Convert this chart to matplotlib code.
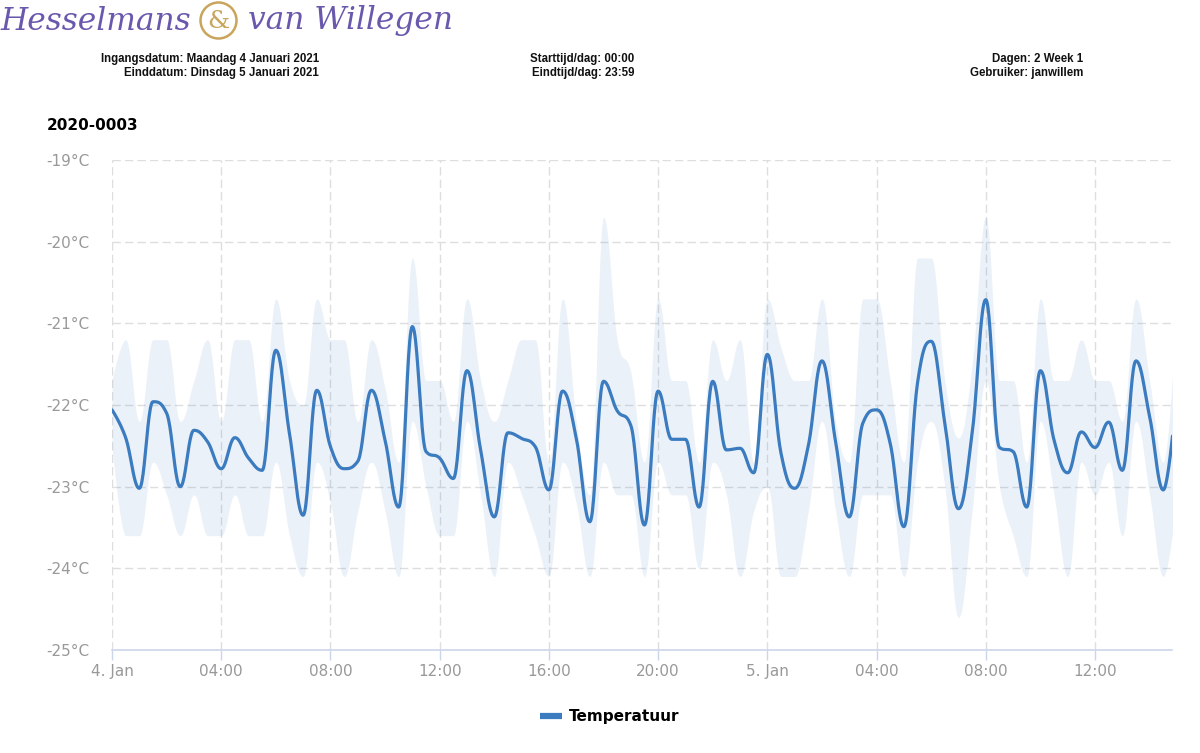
import numpy as np
import pandas as pd
import matplotlib
matplotlib.use("Agg")
import matplotlib.pyplot as plt
import matplotlib.dates as mdates
from matplotlib.patches import Circle
from matplotlib.lines import Line2D

# half-hourly readings starting Maandag 4 Januari 2021 00:00
temp_mean = [
    -22.06, -22.40, -23.02, -21.96, -22.10, -23.00, -22.31, -22.45, -22.78, -22.40,
    -22.65, -22.80, -21.33, -22.35, -23.35, -21.82, -22.51, -22.78, -22.69, -21.82,
    -22.43, -23.25, -21.04, -22.57, -22.65, -22.90, -21.58, -22.55, -23.37, -22.34,
    -22.41, -22.51, -23.04, -21.83, -22.40, -23.43, -21.71, -22.07, -22.25, -23.47,
    -21.83, -22.42, -22.42, -23.25, -21.71, -22.55, -22.53, -22.83, -21.38, -22.59,
    -23.02, -22.50, -21.46, -22.45, -23.37, -22.22, -22.06, -22.47, -23.49, -21.73,
    -21.22, -22.22, -23.27, -22.35, -20.71, -22.52, -22.57, -23.25, -21.58, -22.43,
    -22.83, -22.33, -22.52, -22.21, -22.80, -21.46, -22.14, -23.04, -21.80,
]
temp_high = [
    -21.7, -21.2, -22.2, -21.2, -21.2, -22.2, -21.7, -21.2, -22.2, -21.2,
    -21.2, -22.2, -20.7, -21.7, -22.0, -20.7, -21.2, -21.2, -22.2, -21.2,
    -21.8, -22.7, -20.2, -21.7, -21.7, -22.2, -20.7, -21.7, -22.2, -21.7,
    -21.2, -21.2, -22.7, -20.7, -22.2, -23.1, -19.7, -21.2, -21.6, -22.7,
    -20.7, -21.7, -21.7, -22.7, -21.2, -21.7, -21.2, -22.7, -20.7, -21.3,
    -21.7, -21.7, -20.7, -22.2, -22.7, -20.7, -20.7, -21.7, -22.7, -20.2,
    -20.2, -21.7, -22.4, -21.5, -19.7, -21.7, -21.7, -22.7, -20.7, -21.7,
    -21.7, -21.2, -21.7, -21.7, -22.2, -20.7, -21.7, -22.7, -20.7,
]
temp_low = [
    -22.5, -23.6, -23.6, -22.7, -23.1, -23.6, -23.1, -23.6, -23.6, -23.1,
    -23.6, -23.6, -22.7, -23.6, -24.1, -22.7, -23.2, -24.1, -23.3, -22.7,
    -23.3, -24.1, -22.2, -23.0, -23.6, -23.6, -22.2, -23.1, -24.1, -22.7,
    -23.1, -23.6, -24.1, -22.7, -23.2, -24.1, -22.7, -23.1, -23.1, -24.1,
    -22.7, -23.1, -23.1, -24.0, -22.7, -23.1, -24.1, -23.3, -23.0, -24.1,
    -24.1, -23.3, -22.2, -23.3, -24.1, -23.1, -23.1, -23.1, -24.1, -22.7,
    -22.2, -23.0, -24.6, -23.3, -21.7, -23.0, -23.6, -24.1, -22.2, -23.1,
    -24.1, -22.7, -23.1, -22.7, -23.6, -22.2, -23.1, -24.1, -23.1,
]
y_ticks = [-25, -24, -23, -22, -21, -20, -19]

header_left = ["Ingangsdatum: Maandag 4 Januari 2021", "Einddatum: Dinsdag 5 Januari 2021"]
header_mid = ["Starttijd/dag: 00:00", "Eindtijd/dag: 23:59"]
header_right = ["Dagen: 2 Week 1", "Gebruiker: janwillem"]
chart_title = "2020-0003"
series_name = "Temperatuur"

BLUE = "#3b7bbf"
GRID = "#dedede"
AXIS = "#ccd6eb"
LABEL = "#999999"
PURPLE = "#6a58ad"
GOLD = "#c9a55c"


def spline(x, y, smoothing=1.5, n=24):
    # highcharts style spline: bezier segments with flattened extremes
    x = np.asarray(x, float)
    y = np.asarray(y, float)
    m = len(x)
    lcx, lcy, rcx, rcy = x.copy(), y.copy(), x.copy(), y.copy()
    d = smoothing + 1
    for i in range(1, m - 1):
        lx = (smoothing * x[i] + x[i - 1]) / d
        ly = (smoothing * y[i] + y[i - 1]) / d
        rx = (smoothing * x[i] + x[i + 1]) / d
        ry = (smoothing * y[i] + y[i + 1]) / d
        if rx != lx:
            c = (ry - ly) * (rx - x[i]) / (rx - lx) + y[i] - ry
            ly += c
            ry += c
        if ly > y[i - 1] and ly > y[i]:
            ly = max(y[i - 1], y[i]); ry = 2 * y[i] - ly
        elif ly < y[i - 1] and ly < y[i]:
            ly = min(y[i - 1], y[i]); ry = 2 * y[i] - ly
        if ry > y[i + 1] and ry > y[i]:
            ry = max(y[i + 1], y[i]); ly = 2 * y[i] - ry
        elif ry < y[i + 1] and ry < y[i]:
            ry = min(y[i + 1], y[i]); ly = 2 * y[i] - ry
        lcx[i], lcy[i], rcx[i], rcy[i] = lx, ly, rx, ry
    t = np.linspace(0, 1, n)[:, None]
    xs, ys = [], []
    for i in range(1, m):
        p0 = np.array([x[i - 1], y[i - 1]])
        p1 = np.array([rcx[i - 1], rcy[i - 1]])
        p2 = np.array([lcx[i], lcy[i]])
        p3 = np.array([x[i], y[i]])
        b = ((1 - t) ** 3) * p0 + 3 * ((1 - t) ** 2) * t * p1 + 3 * (1 - t) * t ** 2 * p2 + t ** 3 * p3
        start = 0 if i == 1 else 1
        xs.append(b[start:, 0])
        ys.append(b[start:, 1])
    return np.concatenate(xs), np.concatenate(ys)


times = pd.date_range("2021-01-04 00:00", periods=len(temp_mean), freq="30min")
xnum = mdates.date2num(times.to_pydatetime())

fig = plt.figure(figsize=(12, 7.53), dpi=100)
ax = fig.add_axes([112 / 1200, 1 - 650 / 753, (1172 - 112) / 1200, (650 - 160) / 753])

xh, yh = spline(xnum, temp_high)
xl, yl = spline(xnum, temp_low)
xm, ym = spline(xnum, temp_mean)
ax.fill_between(xh, yl, yh, color=BLUE, alpha=0.1, lw=0, zorder=2)
ax.plot(xm, ym, color=BLUE, lw=2.3, zorder=3, solid_capstyle="round")

start = mdates.date2num(pd.Timestamp("2021-01-04 00:00").to_pydatetime())
ax.set_xlim(start, start + 38.82 / 24)
ax.set_ylim(-25, -19)

ax.xaxis.set_major_locator(mdates.HourLocator(byhour=range(0, 24, 4)))


def fmt_time(v, pos=None):
    d = mdates.num2date(v)
    if d.hour == 0 and d.minute == 0:
        return f"{d.day}. {d:%b}"
    return f"{d:%H:%M}"


ax.xaxis.set_major_formatter(plt.FuncFormatter(fmt_time))
ax.set_yticks(y_ticks)
ax.set_yticklabels([f"{v}°C" for v in y_ticks])

ax.grid(True, color=GRID, lw=1, linestyle=(0, (6, 3)), zorder=1)
ax.set_axisbelow(True)
for s in ["top", "right", "left"]:
    ax.spines[s].set_visible(False)
ax.spines["bottom"].set_color(AXIS)
ax.spines["bottom"].set_linewidth(1.2)
ax.spines["bottom"].set_zorder(4)
ax.tick_params(axis="x", colors=AXIS, length=7, width=1, labelcolor=LABEL, labelsize=11, pad=3)
ax.tick_params(axis="y", length=0, labelcolor=LABEL, labelsize=11, pad=16)

# title
fig.text(47 / 1200, 1 - 126 / 753, chart_title, fontsize=11, fontweight="bold", color="black",
         ha="left", va="center")

# header logo
fig.text(0, 1 - 21 / 753, "Hesselmans", fontsize=22.5, style="italic", family="DejaVu Serif",
         color=PURPLE, ha="left", va="center")
fig.text(248 / 1200, 1 - 21 / 753, "van Willegen", fontsize=22.5, style="italic", family="DejaVu Serif",
         color=PURPLE, ha="left", va="center")
fig.patches.append(Circle((2.185, 7.53 - 0.205), 0.18, transform=fig.dpi_scale_trans,
                          fill=False, ec=GOLD, lw=1.8))
fig.text(218.5 / 1200, 1 - 21 / 753, "&", fontsize=18, family="DejaVu Serif", color=GOLD,
         ha="center", va="center")

# header info
info_font = dict(fontsize=8.3, fontweight="bold", family="Liberation Sans", color="#111111", va="center", ha="right")
for txt, yy in zip(header_left, [59, 73]):
    fig.text(319 / 1200, 1 - yy / 753, txt, **info_font)
for txt, yy in zip(header_mid, [59, 73]):
    fig.text(634 / 1200, 1 - yy / 753, txt, **info_font)
for txt, yy in zip(header_right, [59, 73]):
    fig.text(1083 / 1200, 1 - yy / 753, txt, **info_font)

# legend
handle = Line2D([], [], color=BLUE, lw=4.5, solid_capstyle="butt")
fig.legend([handle], [series_name], loc="center", bbox_to_anchor=(610 / 1200, 1 - 717 / 753),
           frameon=False, handlelength=1.4, handletextpad=0.5,
           prop=dict(size=11, weight="bold"))

fig.savefig("out.png", dpi=100)
